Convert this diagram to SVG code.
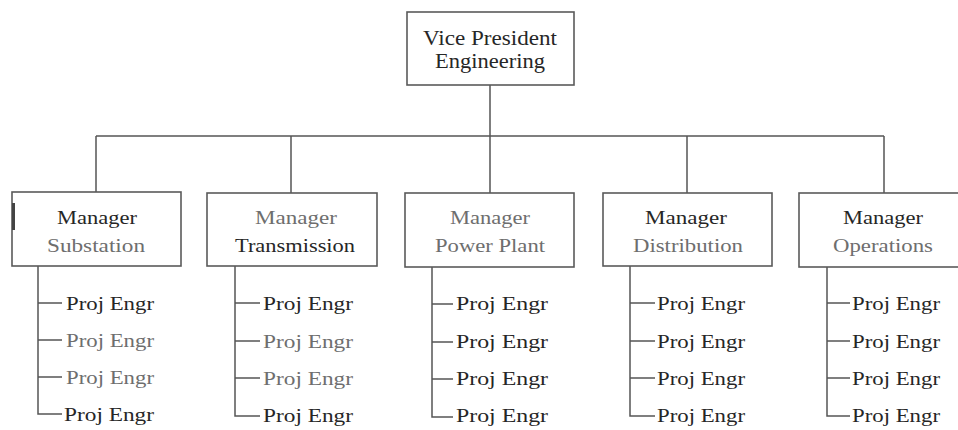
<svg xmlns="http://www.w3.org/2000/svg" width="958" height="430" viewBox="0 0 958 430">
  <style>
    .box { fill: #ffffff; stroke: #5a5a5a; stroke-width: 1.6; }
    .wire { fill: none; stroke: #555555; stroke-width: 1.5; }
    .t { font-family: "Liberation Serif", "Times New Roman", serif; fill: #262626; text-anchor: middle; }
    .top { font-size: 21px; }
    .mgr { font-size: 19px; }
    .pe { font-family: "Liberation Serif", "Times New Roman", serif; font-size: 18px; fill: #262626; }
    .dim { fill: #6e6e6e; }
  </style>
  <rect width="958" height="430" fill="#ffffff"/>

  <!-- connectors -->
  <g id="connectors" class="wire">
    <path d="M490 85 V136"/>
    <path d="M96 136 H884"/>
    <path d="M96 136 V192 M291 136 V193 M490 136 V193 M687 136 V193 M884 136 V193"/>
    <!-- project engineer ladders -->
    <path d="M38 266 V414 H62 M38 303 H62 M38 340 H62 M38 377 H62"/>
    <path d="M235 266 V416 H260 M235 303 H260 M235 341 H260 M235 378 H260"/>
    <path d="M432 267 V417 H453 M432 304 H453 M432 342 H453 M432 379 H453"/>
    <path d="M630 266 V416 H655 M630 303 H655 M630 341 H655 M630 378 H655"/>
    <path d="M827 267 V416 H850 M827 303 H850 M827 341 H850 M827 378 H850"/>
  </g>

  <g id="vp">
    <rect class="box" x="407" y="12" width="167" height="73"/>
    <text class="t top" x="490" y="45" textLength="134" lengthAdjust="spacingAndGlyphs">Vice President</text>
    <text class="t top" x="490" y="68" textLength="110" lengthAdjust="spacingAndGlyphs" fill="#555">Engineering</text>
  </g>

  <g id="mgr-substation">
    <rect class="box" x="12" y="192" width="169" height="74"/>
    <rect x="12" y="203" width="3" height="27" fill="#444"/>
    <text class="t mgr" x="97" y="224" textLength="80" lengthAdjust="spacingAndGlyphs">Manager</text>
    <text class="t mgr dim" x="96" y="252" textLength="98" lengthAdjust="spacingAndGlyphs">Substation</text>
  </g>
  <g id="mgr-transmission">
    <rect class="box" x="207" y="193" width="170" height="73"/>
    <text class="t mgr dim" x="296" y="224" textLength="82" lengthAdjust="spacingAndGlyphs">Manager</text>
    <text class="t mgr" x="295" y="252" textLength="120" lengthAdjust="spacingAndGlyphs">Transmission</text>
  </g>
  <g id="mgr-powerplant">
    <rect class="box" x="405" y="193" width="169" height="74"/>
    <text class="t mgr dim" x="490" y="224" textLength="80" lengthAdjust="spacingAndGlyphs">Manager</text>
    <text class="t mgr dim" x="490" y="252" textLength="110" lengthAdjust="spacingAndGlyphs">Power Plant</text>
  </g>
  <g id="mgr-distribution">
    <rect class="box" x="603" y="193" width="169" height="73"/>
    <text class="t mgr" x="686" y="224" textLength="82" lengthAdjust="spacingAndGlyphs">Manager</text>
    <text class="t mgr dim" x="688" y="252" textLength="110" lengthAdjust="spacingAndGlyphs">Distribution</text>
  </g>
  <g id="mgr-operations">
    <rect class="box" x="799" y="193" width="172" height="74"/>
    <text class="t mgr" x="883" y="224" textLength="80" lengthAdjust="spacingAndGlyphs">Manager</text>
    <text class="t mgr dim" x="883" y="252" textLength="100" lengthAdjust="spacingAndGlyphs">Operations</text>
  </g>

  <!-- project engineers -->
  <g id="pe-substation">
    <text class="pe" x="66" y="310" textLength="88" lengthAdjust="spacingAndGlyphs">Proj Engr</text>
    <text class="pe dim" x="66" y="347" textLength="88" lengthAdjust="spacingAndGlyphs">Proj Engr</text>
    <text class="pe dim" x="66" y="384" textLength="88" lengthAdjust="spacingAndGlyphs">Proj Engr</text>
    <text class="pe" x="64" y="421" textLength="90" lengthAdjust="spacingAndGlyphs">Proj Engr</text>
  </g>
  <g id="pe-transmission">
    <text class="pe" x="263" y="310" textLength="90" lengthAdjust="spacingAndGlyphs">Proj Engr</text>
    <text class="pe dim" x="263" y="348" textLength="90" lengthAdjust="spacingAndGlyphs">Proj Engr</text>
    <text class="pe dim" x="263" y="385" textLength="90" lengthAdjust="spacingAndGlyphs">Proj Engr</text>
    <text class="pe" x="263" y="422" textLength="90" lengthAdjust="spacingAndGlyphs">Proj Engr</text>
  </g>
  <g id="pe-powerplant">
    <text class="pe" x="456" y="310" textLength="92" lengthAdjust="spacingAndGlyphs">Proj Engr</text>
    <text class="pe" x="456" y="348" textLength="92" lengthAdjust="spacingAndGlyphs">Proj Engr</text>
    <text class="pe" x="456" y="385" textLength="92" lengthAdjust="spacingAndGlyphs">Proj Engr</text>
    <text class="pe" x="456" y="422" textLength="92" lengthAdjust="spacingAndGlyphs">Proj Engr</text>
  </g>
  <g id="pe-distribution">
    <text class="pe" x="657" y="310" textLength="88" lengthAdjust="spacingAndGlyphs">Proj Engr</text>
    <text class="pe" x="657" y="348" textLength="88" lengthAdjust="spacingAndGlyphs">Proj Engr</text>
    <text class="pe" x="657" y="385" textLength="88" lengthAdjust="spacingAndGlyphs">Proj Engr</text>
    <text class="pe" x="657" y="422" textLength="88" lengthAdjust="spacingAndGlyphs">Proj Engr</text>
  </g>
  <g id="pe-operations">
    <text class="pe" x="852" y="310" textLength="88" lengthAdjust="spacingAndGlyphs">Proj Engr</text>
    <text class="pe" x="852" y="348" textLength="88" lengthAdjust="spacingAndGlyphs">Proj Engr</text>
    <text class="pe" x="852" y="385" textLength="88" lengthAdjust="spacingAndGlyphs">Proj Engr</text>
    <text class="pe" x="852" y="422" textLength="88" lengthAdjust="spacingAndGlyphs">Proj Engr</text>
  </g>
</svg>
